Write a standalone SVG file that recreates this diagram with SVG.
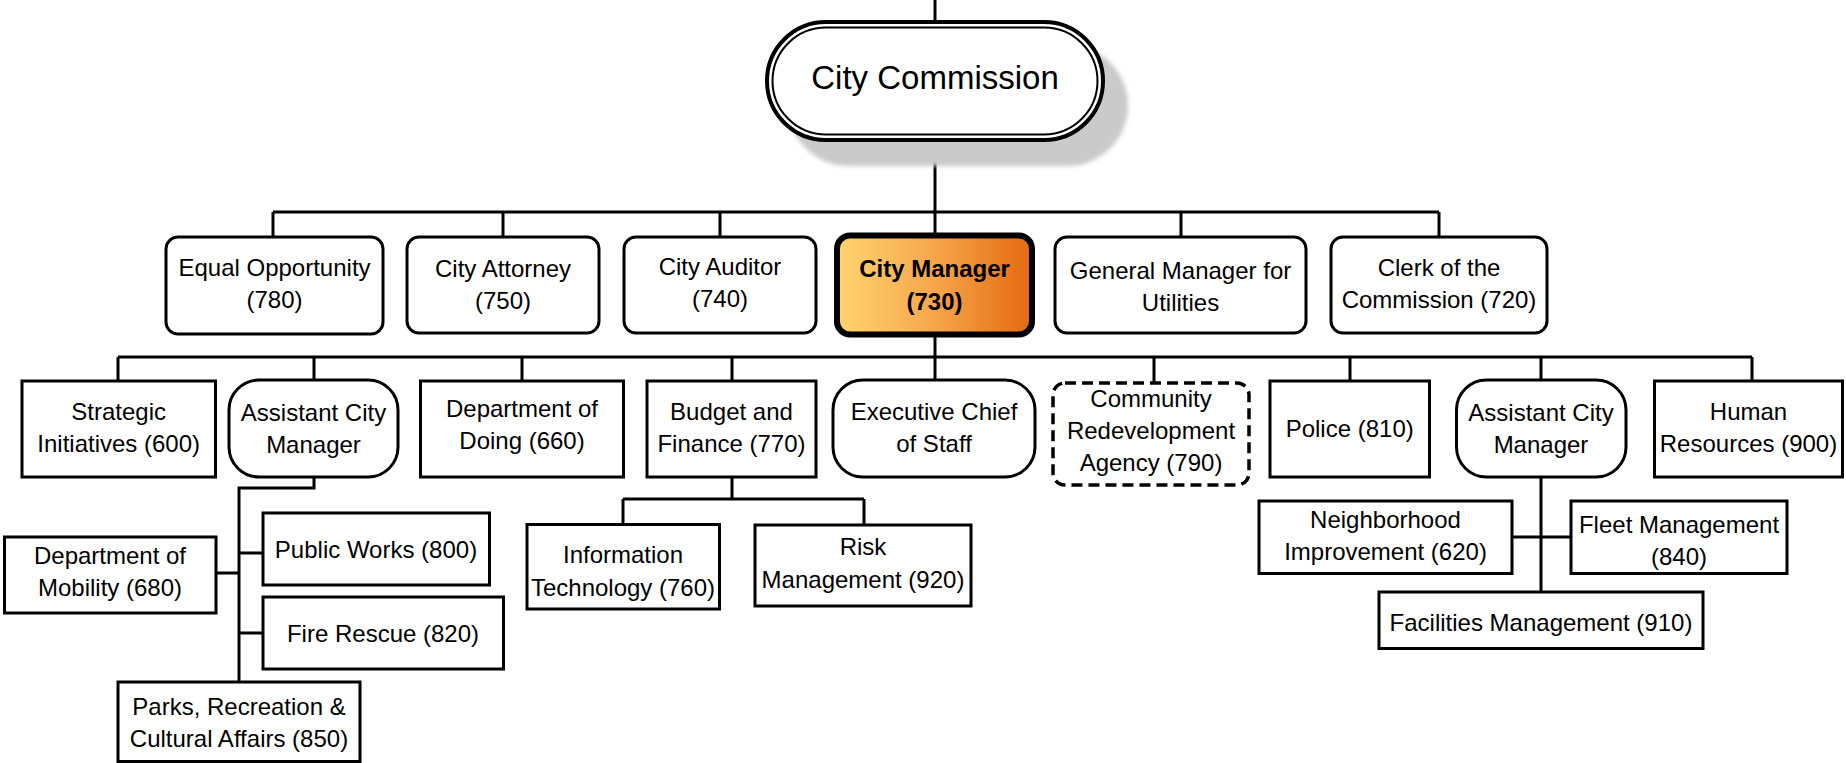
<svg xmlns="http://www.w3.org/2000/svg" width="1846" height="763" viewBox="0 0 1846 763">
<style>
.box{fill:#fff;stroke:#000;stroke-width:3}
.dash{fill:#fff;stroke:#000;stroke-width:3.5;stroke-dasharray:11 6}
.t{font-family:'Liberation Sans',Arial,sans-serif;font-size:24px;text-anchor:middle;fill:#000}
.b{font-weight:bold}
.conn path{stroke:#000;stroke-width:3;fill:none}
</style>
<defs>
<linearGradient id="cmg" x1="0" y1="0" x2="1" y2="0">
<stop offset="0" stop-color="#FFD470"/>
<stop offset="0.5" stop-color="#F6A64B"/>
<stop offset="1" stop-color="#E4690F"/>
</linearGradient>
<filter id="sh" x="-20%" y="-30%" width="140%" height="160%">
<feGaussianBlur stdDeviation="2"/>
</filter>
</defs>
<rect width="1846" height="763" fill="#fff"/>
<g id="connectors" class="conn">
<path d="M935 0V22"/>
<path d="M935 140V212"/>
<path d="M273 212H1439"/>
<path d="M273 212V237M503 212V237M720 212V237M935 212V235M1181 212V237M1439 212V237"/>
<path d="M935 335V357"/>
<path d="M118 357H1752"/>
<path d="M118 357V381M314 357V380M522 357V381M732 357V381M935 357V380M1154 357V383M1350 357V381M1541 357V380M1752 357V381"/>
<path d="M314 477V488H239V682"/>
<path d="M239 553H263M216 573H239M239 633H263"/>
<path d="M732 477V499M623 499H864M623 499V524M864 499V525"/>
<path d="M1541 477V592M1512 537H1571"/>
</g>
<g id="city-commission">
<rect x="788" y="45" width="340" height="121" rx="60.5" fill="#CACACA" filter="url(#sh)"/>
<rect x="767" y="22" width="336" height="118" rx="59" fill="#fff" stroke="#000" stroke-width="4"/>
<rect x="772.5" y="27.5" width="325" height="107" rx="53.5" fill="none" stroke="#000" stroke-width="2"/>
<text class="t" x="935" y="89" style="font-size:33px">City Commission</text>
</g>
<g id="equal-opportunity">
<rect class="box" x="166" y="237" width="217" height="97" rx="12"/>
<text class="t" x="274.5" y="276">Equal Opportunity</text>
<text class="t" x="274.5" y="308">(780)</text>
</g>
<g id="city-attorney">
<rect class="box" x="407" y="237" width="192" height="96" rx="12"/>
<text class="t" x="503" y="277">City Attorney</text>
<text class="t" x="503" y="309">(750)</text>
</g>
<g id="city-auditor">
<rect class="box" x="624" y="237" width="192" height="96" rx="12"/>
<text class="t" x="720" y="275">City Auditor</text>
<text class="t" x="720" y="307">(740)</text>
</g>
<g id="city-manager">
<rect x="837" y="235.5" width="195" height="99" rx="13" fill="url(#cmg)" stroke="#000" stroke-width="6"/>
<text class="t b" x="934.5" y="277">City Manager</text>
<text class="t b" x="934.5" y="309.5">(730)</text>
</g>
<g id="general-manager-utilities">
<rect class="box" x="1055" y="237" width="251" height="96" rx="12"/>
<text class="t" x="1180.5" y="279">General Manager for</text>
<text class="t" x="1180.5" y="311">Utilities</text>
</g>
<g id="clerk-commission">
<rect class="box" x="1331" y="237" width="216" height="96" rx="12"/>
<text class="t" x="1439" y="276">Clerk of the</text>
<text class="t" x="1439" y="308">Commission (720)</text>
</g>
<g id="strategic-initiatives">
<rect class="box" x="22" y="381" width="193.5" height="96"/>
<text class="t" x="118.7" y="420">Strategic</text>
<text class="t" x="118.7" y="452">Initiatives (600)</text>
</g>
<g id="assistant-city-manager-1">
<rect class="box" x="229" y="380" width="169" height="97" rx="30"/>
<text class="t" x="313.5" y="421">Assistant City</text>
<text class="t" x="313.5" y="453">Manager</text>
</g>
<g id="department-of-doing">
<rect class="box" x="420.5" y="381" width="203" height="96"/>
<text class="t" x="522" y="417">Department of</text>
<text class="t" x="522" y="449">Doing (660)</text>
</g>
<g id="budget-finance">
<rect class="box" x="647" y="381" width="169" height="96"/>
<text class="t" x="731.5" y="420">Budget and</text>
<text class="t" x="731.5" y="452">Finance (770)</text>
</g>
<g id="executive-chief-of-staff">
<rect class="box" x="833" y="380" width="202" height="97" rx="30"/>
<text class="t" x="934" y="420">Executive Chief</text>
<text class="t" x="934" y="452">of Staff</text>
</g>
<g id="community-redevelopment-agency">
<rect class="dash" x="1053" y="383" width="196" height="102" rx="12"/>
<text class="t" x="1151" y="407">Community</text>
<text class="t" x="1151" y="439">Redevelopment</text>
<text class="t" x="1151" y="471">Agency (790)</text>
</g>
<g id="police">
<rect class="box" x="1270" y="381" width="159.5" height="96"/>
<text class="t" x="1349.7" y="437">Police (810)</text>
</g>
<g id="assistant-city-manager-2">
<rect class="box" x="1456.5" y="380" width="169.5" height="97" rx="30"/>
<text class="t" x="1541" y="421">Assistant City</text>
<text class="t" x="1541" y="453">Manager</text>
</g>
<g id="human-resources">
<rect class="box" x="1654.5" y="381" width="188" height="96"/>
<text class="t" x="1748.5" y="420">Human</text>
<text class="t" x="1748.5" y="452">Resources (900)</text>
</g>
<g id="department-of-mobility">
<rect class="box" x="4.5" y="537" width="211.5" height="76"/>
<text class="t" x="110" y="564">Department of</text>
<text class="t" x="110" y="596">Mobility (680)</text>
</g>
<g id="public-works">
<rect class="box" x="263" y="513" width="226.5" height="72"/>
<text class="t" x="376" y="558">Public Works (800)</text>
</g>
<g id="fire-rescue">
<rect class="box" x="263" y="597" width="240.5" height="72"/>
<text class="t" x="383" y="642">Fire Rescue (820)</text>
</g>
<g id="parks-recreation">
<rect class="box" x="118" y="682" width="242" height="79.5"/>
<text class="t" x="239" y="715">Parks, Recreation &amp;</text>
<text class="t" x="239" y="747">Cultural Affairs (850)</text>
</g>
<g id="information-technology">
<rect class="box" x="527" y="524.5" width="192.5" height="84.5"/>
<text class="t" x="623" y="563">Information</text>
<text class="t" x="623" y="596">Technology (760)</text>
</g>
<g id="risk-management">
<rect class="box" x="755" y="525" width="216" height="81"/>
<text class="t" x="863" y="555">Risk</text>
<text class="t" x="863" y="588">Management (920)</text>
</g>
<g id="neighborhood-improvement">
<rect class="box" x="1259" y="501" width="253" height="72.5"/>
<text class="t" x="1385.5" y="528">Neighborhood</text>
<text class="t" x="1385.5" y="560">Improvement (620)</text>
</g>
<g id="fleet-management">
<rect class="box" x="1571" y="501" width="216" height="72.5"/>
<text class="t" x="1679" y="533">Fleet Management</text>
<text class="t" x="1679" y="565">(840)</text>
</g>
<g id="facilities-management">
<rect class="box" x="1379" y="592" width="324" height="56.5"/>
<text class="t" x="1541" y="631">Facilities Management (910)</text>
</g>
</svg>
